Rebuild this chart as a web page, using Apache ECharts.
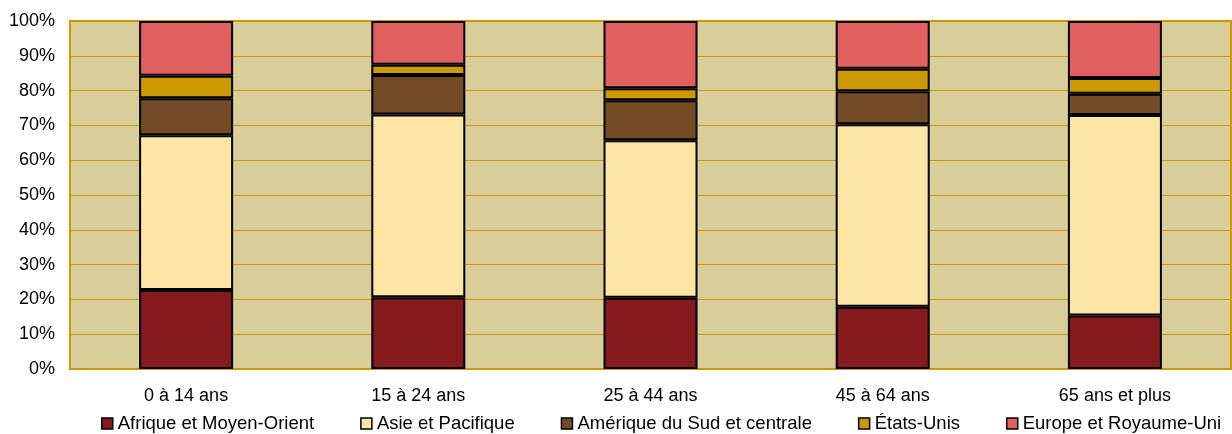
<!DOCTYPE html>
<html>
<head>
<meta charset="utf-8">
<script src="https://cdn.jsdelivr.net/npm/echarts@6/dist/echarts.min.js"></script>
<style>
  html, body { margin: 0; padding: 0; background: #fff; }
  #chart { width: 1232px; height: 434px; }
</style>
</head>
<body>
<div id="chart"></div>
<script>
const categories = ["0 à 14 ans", "15 à 24 ans", "25 à 44 ans", "45 à 64 ans", "65 ans et plus"];
const yTicks = [0, 10, 20, 30, 40, 50, 60, 70, 80, 90, 100];

const afrique = [22.7, 20.6, 20.5, 17.9, 15.4];
const asie = [44.5, 52.5, 45.2, 52.4, 57.6];
const amerique = [10.6, 11.4, 11.5, 9.5, 6.1];
const etatsUnis = [6.5, 2.9, 3.5, 6.5, 4.5];
const europe = [15.7, 12.6, 19.3, 13.7, 16.4];

const seriesDefs = [
  { name: "Afrique et Moyen-Orient", data: afrique, color: "#841A1C" },
  { name: "Asie et Pacifique", data: asie, color: "#FDE5A5" },
  { name: "Amérique du Sud et centrale", data: amerique, color: "#734C27" },
  { name: "États-Unis", data: etatsUnis, color: "#CC9900" },
  { name: "Europe et Royaume-Uni", data: europe, color: "#E05F5F" },
];

const font = "Liberation Sans, Arial, sans-serif";
const chart = echarts.init(document.getElementById("chart"));

chart.setOption({
  animation: false,
  textStyle: { fontFamily: font },
  grid: {
    left: 70,
    right: 1,
    top: 21,
    bottom: 65,
    show: true,
    backgroundColor: "#D9CD9A",
    borderColor: "#CC9900",
    borderWidth: 2,
  },
  legend: {
    left: 96,
    top: 409,
    itemWidth: 11,
    itemHeight: 11,
    itemGap: 46,
    icon: "rect",
    data: seriesDefs.map((s) => s.name),
    textStyle: { fontSize: 18.5, color: "#000", fontFamily: font },
    itemStyle: { borderColor: "#000", borderWidth: 1.5 },
  },
  xAxis: {
    type: "category",
    data: categories,
    axisLine: { show: true, lineStyle: { color: "#CC9900", width: 2 } },
    axisTick: { show: false },
    axisLabel: { fontSize: 18, color: "#000", margin: 18, fontFamily: font },
  },
  yAxis: {
    type: "value",
    min: 0,
    max: 100,
    interval: 10,
    axisLine: { show: true, lineStyle: { color: "#CC9900", width: 2 } },
    axisTick: { show: false },
    splitLine: { show: true, lineStyle: { color: "#CC9900", width: 1 } },
    axisLabel: {
      fontSize: 18,
      color: "#000",
      margin: 15,
      fontFamily: font,
      formatter: (v) => (yTicks.includes(v) ? v + "%" : ""),
    },
  },
  series: seriesDefs.map((s) => ({
    name: s.name,
    type: "bar",
    stack: "total",
    barWidth: 94,
    data: s.data,
    itemStyle: { color: s.color, borderColor: "#000", borderWidth: 2 },
  })),
});
</script>
</body>
</html>
